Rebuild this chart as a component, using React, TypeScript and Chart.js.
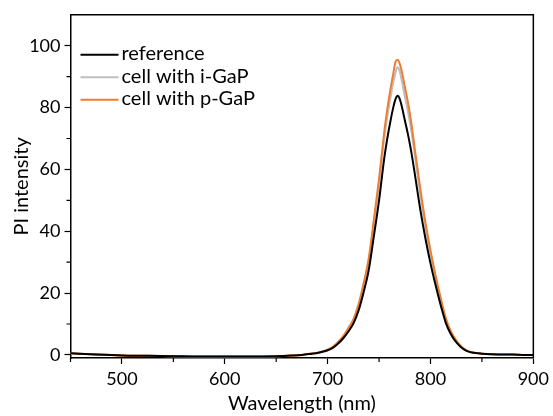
import React, { useEffect, useRef } from 'react';
import { Chart, registerables } from 'chart.js';

Chart.register(...registerables);

const wavelengths = [450, 475, 500, 525, 550, 575, 600, 625, 650, 665, 675, 685, 690, 695, 700, 705, 710, 715, 720, 725, 730, 735, 740, 745, 750, 755, 758, 761, 764, 766, 768, 770, 772, 775, 778, 781, 785, 790, 795, 800, 805, 810, 815, 820, 825, 830, 835, 840, 850, 860, 870, 880, 890, 900];

const referenceValues = [0.5, 0.1, -0.2, -0.3, -0.4, -0.5, -0.5, -0.5, -0.4, -0.2, 0.0, 0.4, 0.6, 1.0, 1.5, 2.3, 3.6, 5.3, 7.5, 10.1, 14.3, 20.3, 27.5, 38.5, 50, 63.5, 70, 75.5, 80.3, 82.7, 83.8, 82.9, 80.5, 76, 71.5, 66.3, 58, 47.2, 37.8, 29.6, 22.5, 16, 10.3, 6.6, 4.1, 2.4, 1.3, 0.8, 0.4, 0.2, 0.1, 0.1, 0.0, 0.0];

const iGaPValues = [0.5, 0.1, -0.2, -0.3, -0.4, -0.5, -0.5, -0.5, -0.4, -0.2, 0.0, 0.45, 0.65, 1.1, 1.65, 2.5, 4.0, 5.9, 8.3, 11.1, 15.8, 22.4, 30.4, 42.5, 55.2, 70, 77, 83, 88.3, 91.3, 93, 91.8, 88.8, 83.6, 78.9, 73.2, 64, 52.1, 41.7, 32.7, 24.8, 17.7, 11.4, 7.3, 4.5, 2.6, 1.4, 0.9, 0.4, 0.2, 0.1, 0.1, 0.0, 0.0];

const pGaPValues = [0.5, 0.1, -0.2, -0.3, -0.4, -0.5, -0.5, -0.5, -0.4, -0.2, 0.0, 0.5, 0.7, 1.1, 1.7, 2.6, 4.1, 6.0, 8.6, 11.5, 16.3, 23.2, 31.4, 44, 57, 72, 79.5, 85.8, 91.3, 94.8, 95.5, 94.3, 91.8, 86.8, 81.8, 75.8, 66, 54, 43, 33.8, 25.6, 18.3, 11.8, 7.5, 4.7, 2.7, 1.5, 0.9, 0.4, 0.2, 0.1, 0.1, 0.0, 0.0];

const seriesLabels = ['reference', 'cell with i-GaP', 'cell with p-GaP'];
const seriesColors = ['#000000', '#BFBFBF', '#ED7D31'];

const xMajorTicks = [500, 600, 700, 800, 900];
const xMinorTicks = [450, 550, 650, 750, 850];
const yMajorTicks = [0, 20, 40, 60, 80, 100];
const yMinorTicks = [10, 30, 50, 70, 90];

const FONT = 'Lato, "Open Sans", sans-serif';

const framePlugin = {
  id: 'frameAndMinor',
  afterDraw(chart: any) {
    const { ctx, chartArea } = chart;
    const xs = chart.scales.x;
    const ys = chart.scales.y;
    ctx.save();
    ctx.strokeStyle = '#000';
    ctx.lineWidth = 1.5;
    ctx.beginPath();
    ctx.moveTo(chartArea.left, chartArea.top);
    ctx.lineTo(chartArea.right, chartArea.top);
    ctx.lineTo(chartArea.right, chartArea.bottom);
    ctx.stroke();
    ctx.lineWidth = 1.2;
    ctx.beginPath();
    xMinorTicks.forEach((v) => {
      const px = xs.getPixelForValue(v);
      ctx.moveTo(px, chartArea.bottom);
      ctx.lineTo(px, chartArea.bottom + 4);
    });
    yMinorTicks.forEach((v) => {
      const py = ys.getPixelForValue(v);
      ctx.moveTo(chartArea.left, py);
      ctx.lineTo(chartArea.left - 4, py);
    });
    ctx.stroke();

    // legend
    const datasets = chart.data.datasets;
    const startX = chartArea.left + 10;
    const startY = chartArea.top + 40;
    const rowH = 22.5;
    ctx.font = `20px ${FONT}`;
    ctx.textBaseline = 'middle';
    ctx.textAlign = 'left';
    datasets.forEach((ds: any, i: number) => {
      const y = startY + i * rowH;
      ctx.strokeStyle = ds.borderColor;
      ctx.lineWidth = 2;
      ctx.beginPath();
      ctx.moveTo(startX, y);
      ctx.lineTo(startX + 38, y);
      ctx.stroke();
      ctx.fillStyle = '#000';
      ctx.fillText(ds.label, startX + 41, y - 1);
    });
    ctx.restore();
  },
};

export default function App() {
  const canvasRef = useRef<HTMLCanvasElement | null>(null);

  useEffect(() => {
    document.body.style.margin = '0';
    const canvas = canvasRef.current;
    if (!canvas) return;
    const seriesValues = [referenceValues, iGaPValues, pGaPValues];
    const orders = [0, 2, 1];
    const chart = new Chart(canvas, {
      type: 'line',
      data: {
        datasets: seriesValues.map((vals, i) => ({
          label: seriesLabels[i],
          data: wavelengths.map((w, j) => ({ x: w, y: vals[j] })),
          borderColor: seriesColors[i],
          backgroundColor: seriesColors[i],
          borderWidth: 2,
          pointRadius: 0,
          cubicInterpolationMode: 'monotone' as const,
          order: orders[i],
        })),
      },
      plugins: [framePlugin],
      options: {
        animation: false,
        responsive: false,
        maintainAspectRatio: false,
        layout: { padding: { top: 12, right: 17, left: 0, bottom: 0 } },
        plugins: {
          legend: { display: false },
          tooltip: { enabled: false },
        },
        scales: {
          x: {
            type: 'linear',
            min: 450,
            max: 900,
            afterBuildTicks: (scale: any) => {
              scale.ticks = xMajorTicks.map((v) => ({ value: v }));
            },
            afterFit: (scale: any) => {
              scale.height = 58;
            },
            ticks: {
              autoSkip: false,
              maxRotation: 0,
              padding: 4,
              color: '#000',
              font: { family: FONT, size: 18 },
            },
            grid: {
              drawOnChartArea: false,
              drawTicks: true,
              tickLength: 6,
              tickColor: '#000',
              tickWidth: 1.2,
            },
            border: { display: true, color: '#000', width: 1.5 },
            title: {
              display: true,
              text: 'Wavelength (nm)',
              color: '#000',
              font: { family: FONT, size: 20 },
              padding: { top: 0, bottom: 0 },
            },
          },
          y: {
            type: 'linear',
            min: -1,
            max: 110,
            afterBuildTicks: (scale: any) => {
              scale.ticks = yMajorTicks.map((v) => ({ value: v }));
            },
            afterFit: (scale: any) => {
              scale.width = 70.5;
            },
            ticks: {
              autoSkip: false,
              padding: 4,
              color: '#000',
              font: { family: FONT, size: 18 },
            },
            grid: {
              drawOnChartArea: false,
              drawTicks: true,
              tickLength: 6,
              tickColor: '#000',
              tickWidth: 1.2,
            },
            border: { display: true, color: '#000', width: 1.5 },
            title: {
              display: true,
              text: 'PI intensity',
              color: '#000',
              font: { family: FONT, size: 20 },
              padding: { top: 10, bottom: 0 },
            },
          },
        },
      },
    });
    return () => chart.destroy();
  }, []);

  return (
    <div style={{ width: 553, height: 416 }}>
      <canvas ref={canvasRef} width={553} height={416} style={{ display: 'block' }} />
    </div>
  );
}
